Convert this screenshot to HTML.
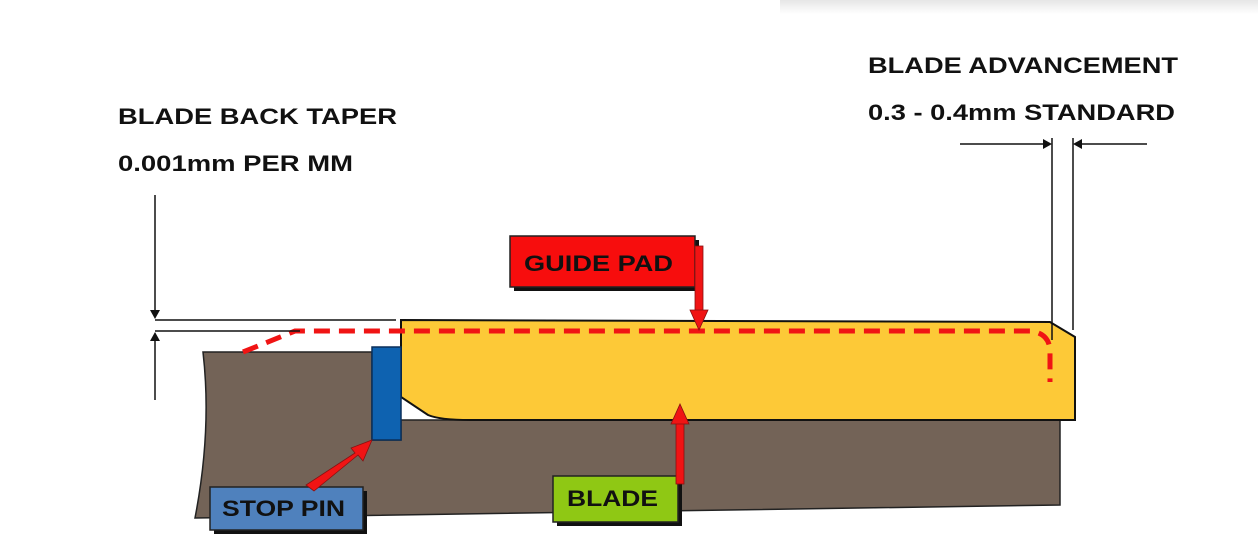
<!DOCTYPE html>
<html><head><meta charset="utf-8"><style>
html,body{margin:0;padding:0;background:#fff;}
svg{display:block}
text{font-family:"Liberation Sans",Arial,sans-serif;font-weight:bold;fill:#111}
</style></head><body>
<svg width="1258" height="538" viewBox="0 0 1258 538" xmlns="http://www.w3.org/2000/svg">
<defs>
<linearGradient id="g" x1="0" y1="0" x2="0" y2="1"><stop offset="0" stop-color="#e6e6e6"/><stop offset="1" stop-color="#fff"/></linearGradient>
</defs>
<rect x="780" y="0" width="478" height="14" fill="url(#g)"/>
<text x="118" y="124" font-size="22" textLength="279" lengthAdjust="spacingAndGlyphs">BLADE BACK TAPER</text>
<text x="118" y="171" font-size="22" textLength="235" lengthAdjust="spacingAndGlyphs">0.001mm PER MM</text>
<text x="868" y="73" font-size="22" textLength="310" lengthAdjust="spacingAndGlyphs">BLADE ADVANCEMENT</text>
<text x="868" y="120" font-size="22" textLength="307" lengthAdjust="spacingAndGlyphs">0.3 - 0.4mm STANDARD</text>
<path d="M203,352 L372,352 L372,440 L401,440 L401,420 L1060,420 L1060,505 L195,518 Q212,430 203,352 Z" fill="#736357" stroke="#222" stroke-width="1.5"/>
<path d="M401,320 L1050,322 L1075,337 L1075,420 L470,420 Q440,420 428,415 L401,397 Z" fill="#fdc937" stroke="#111" stroke-width="2"/>
<rect x="372" y="347" width="29" height="93" fill="#0e62b0" stroke="#0a2f5a" stroke-width="1.5"/>
<path d="M243,352 L295,331 L1030,331 Q1050,333 1050,352 L1050,382" fill="none" stroke="#f01414" stroke-width="5" stroke-dasharray="16,9"/>
<g stroke="#111" stroke-width="1.5" fill="none">
<line x1="155" y1="195" x2="155" y2="312"/>
<line x1="155" y1="320" x2="396" y2="320"/>
<line x1="155" y1="331" x2="300" y2="331"/>
<line x1="155" y1="338" x2="155" y2="400"/>
<line x1="1052" y1="138" x2="1052" y2="340"/>
<line x1="1073" y1="138" x2="1073" y2="330"/>
<line x1="960" y1="144" x2="1046" y2="144"/>
<line x1="1147" y1="144" x2="1079" y2="144"/>
</g>
<g fill="#111">
<path d="M150,310 L160,310 L155,319 Z"/>
<path d="M150,341 L160,341 L155,332 Z"/>
<path d="M1043,139 L1043,149 L1052,144 Z"/>
<path d="M1082,139 L1082,149 L1073,144 Z"/>
</g>
<rect x="514" y="240" width="185" height="51" fill="#111"/>
<rect x="510" y="236" width="185" height="51" fill="#f70d0d" stroke="#222" stroke-width="1.5"/>
<text x="524" y="271" font-size="22" textLength="149" lengthAdjust="spacingAndGlyphs">GUIDE  PAD</text>
<rect x="695" y="246" width="8" height="66" fill="#f01414" stroke="#811" stroke-width="0.8"/>
<path d="M690,310 L708,310 L699,330 Z" fill="#f01414" stroke="#811" stroke-width="0.8"/>
<rect x="557" y="480" width="125" height="46" fill="#111"/>
<rect x="553" y="476" width="125" height="46" fill="#8fc814" stroke="#222" stroke-width="1.5"/>
<text x="567" y="506" font-size="22" textLength="91" lengthAdjust="spacingAndGlyphs">BLADE</text>
<rect x="676" y="422" width="8" height="62" fill="#f01414" stroke="#811" stroke-width="0.8"/>
<path d="M671,424 L689,424 L680,404 Z" fill="#f01414" stroke="#811" stroke-width="0.8"/>
<rect x="214" y="491" width="153" height="43" fill="#111"/>
<rect x="210" y="487" width="153" height="43" fill="#4f81bd" stroke="#222" stroke-width="1.5"/>
<text x="222" y="516" font-size="22" textLength="123" lengthAdjust="spacingAndGlyphs">STOP PIN</text>
<path d="M306,485 L314,491 L358,455 L363,461 L372,440 L351,448 L355,453 Z" fill="#f01414" stroke="#811" stroke-width="0.8"/>
</svg>
</body></html>
